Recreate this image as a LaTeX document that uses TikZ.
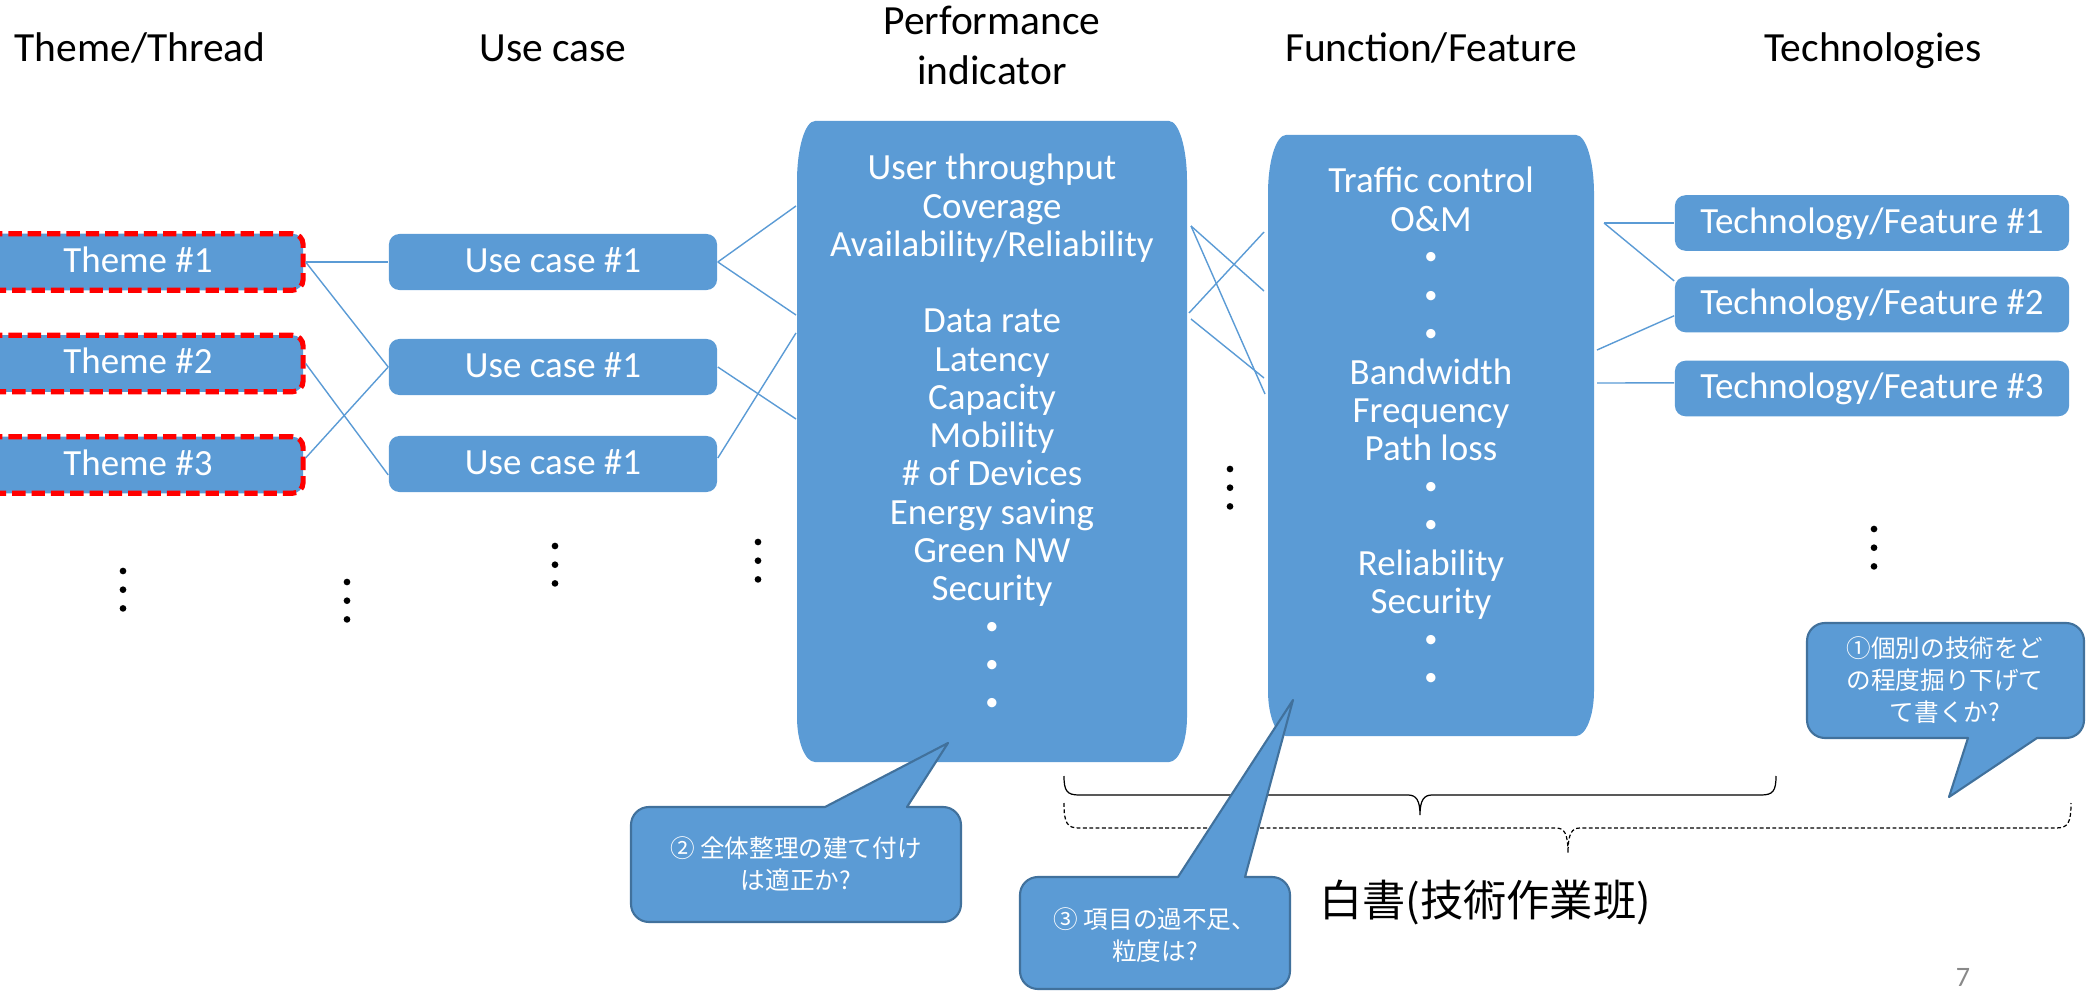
\documentclass[tikz,border=0pt]{standalone}
\usepackage{fontspec}
\setmainfont{Carlito}
\newfontfamily\jpfont{Noto Sans CJK JP}
\usetikzlibrary{calc}
\definecolor{boxblue}{HTML}{5B9BD5}
\definecolor{calloutedge}{HTML}{41719C}
\definecolor{pagegray}{HTML}{898989}

% blue panel with elliptical corners: x1 y1 x2 y2 rx ry-top ry-bottom
\newcommand\softpanel[7]{%
  \fill[boxblue] (#1,#2+#6) .. controls (#1,#2+0.45*#6) and (#1+0.45*#5,#2) .. (#1+#5,#2)
   -- (#3-#5,#2) .. controls (#3-0.45*#5,#2) and (#3,#2+0.45*#6) .. (#3,#2+#6)
   -- (#3,#4-#7) .. controls (#3,#4-0.45*#7) and (#3-0.45*#5,#4) .. (#3-#5,#4)
   -- (#1+#5,#4) .. controls (#1+0.45*#5,#4) and (#1,#4-0.45*#7) .. (#1,#4-#7) -- cycle;}
% list placeholder dot
\newcommand\ldot{\raisebox{1.3pt}{\fontsize{7.5}{7.5}\selectfont •}}

\begin{document}
\begin{tikzpicture}[x=0.01cm, y=-0.01cm,
  link/.style={draw=boxblue, line width=0.4pt},
  hdr/.style={font=\fontsize{11.8}{14.2}\selectfont, anchor=base, inner sep=0pt},
  itembox/.style={fill=boxblue, text=white, font=\fontsize{10.5}{12}\selectfont,
    inner sep=0pt, text height=7.6pt, text depth=1.9pt, rounded corners=3pt},
  themebox/.style={itembox, draw=red, line width=1.45pt, dash pattern=on 3.8pt off 1.7pt,
    minimum width=3.30cm, minimum height=0.565cm},
  ucbox/.style={itembox, minimum width=3.28cm, minimum height=0.56cm},
  techbox/.style={itembox, minimum width=3.94cm, minimum height=0.555cm},
  listtext/.style={text=white, font=\fontsize{10.5}{10.87}\selectfont, anchor=base, inner sep=0pt},
  note/.style={text=white, font=\jpfont\fontsize{7}{9}\selectfont, align=center, inner sep=0pt},
  callout/.style={fill=boxblue, draw=calloutedge, line width=0.6pt, line join=round},
  brace/.style={draw=black, line width=0.35pt}
]
\useasboundingbox (0,0) rectangle (2093,991);

% column headings
\node[hdr] (h-th) at (140,62) {Theme/Thread};
\node[hdr] (h-uc) at (553,62) {Use case};
\node[hdr] (h-pi) at (992,35) {\begin{tabular}[t]{@{}c@{}}Performance\\indicator\end{tabular}};
\node[hdr] (h-ff) at (1431,62) {Function/Feature};
\node[hdr] (h-tt) at (1873,62) {Technologies};

% large panels
\softpanel{797}{121}{1187}{762}{18}{60}{45}
\softpanel{1268}{135}{1594}{736}{18}{58}{45}

\node[listtext] (pi) at (992,180) {\begin{tabular}[t]{@{}c@{}}
User throughput\\Coverage\\Availability/Reliability\\ \\Data rate\\Latency\\Capacity\\Mobility\\
\# of Devices\\Energy saving\\Green NW\\Security\\\ldot\\\ldot\\\ldot\end{tabular}};
\node[listtext] (ff) at (1431,193) {\begin{tabular}[t]{@{}c@{}}
Traffic control\\O\&M\\\ldot\\\ldot\\\ldot\\Bandwidth\\Frequency\\Path loss\\\ldot\\\ldot\\Reliability\\Security\\\ldot\\\ldot\end{tabular}};

% themes, use cases, technologies
\node[themebox] (th1) at (138,262) {Theme \#1};
\node[themebox] (th2) at (138,363.5) {Theme \#2};
\node[themebox] (th3) at (138,465) {Theme \#3};

\node[ucbox] (uc1) at (553,262) {Use case \#1};
\node[ucbox] (uc2) at (553,367) {Use case \#1};
\node[ucbox] (uc3) at (553,464) {Use case \#1};

\node[techbox] (tt1) at (1872,223) {Technology/Feature \#1};
\node[techbox] (tt2) at (1872,304.5) {Technology/Feature \#2};
\node[techbox] (tt3) at (1872,388.5) {Technology/Feature \#3};

% attachment points on the panels
\coordinate (pi-w1) at (796,206);
\coordinate (pi-w2) at (796,315);
\coordinate (pi-w3) at (796,333);
\coordinate (pi-w4) at (796,419);
\coordinate (pi-e1) at (1191,226);
\coordinate (pi-e2) at (1189,313);
\coordinate (pi-e3) at (1191,319);
\coordinate (ff-w1) at (1264,232);
\coordinate (ff-w2) at (1264,291);
\coordinate (ff-w3) at (1264,378);
\coordinate (ff-w4) at (1265,394);
\coordinate (ff-e1) at (1604,223);
\coordinate (ff-e2) at (1597,350);
\coordinate (ff-e3) at (1597,383);

% links
\draw[link] (th1.east) -- (uc1.west);
\draw[link] (th1.east) -- (uc2.west);
\draw[link] (th2.east) -- ([yshift=-3.1pt]uc3.west);
\draw[link] ([yshift=2pt]th3.east) -- (uc2.west);

\draw[link] (uc1.east) -- (pi-w1);
\draw[link] (uc1.east) -- (pi-w2);
\draw[link] (uc2.east) -- (pi-w4);
\draw[link] ([yshift=1.7pt]uc3.east) -- (pi-w3);

\draw[link] (pi-e1) -- (ff-w2);
\draw[link] (pi-e1) -- (ff-w4);
\draw[link] (pi-e2) -- (ff-w1);
\draw[link] (pi-e3) -- (ff-w3);

\draw[link] (ff-e1) -- (tt1.west);
\draw[link] (ff-e1) -- ([yshift=-1.4pt]tt2.north west);
\draw[link] (ff-e2) -- ([yshift=-3.2pt]tt2.west);
\draw[link] (ff-e3) -- ([yshift=1.6pt]tt3.west);

% vertical ellipses
\foreach \x/\y in {123/571, 347/582, 555/546, 758/542, 1230/469, 1874/529}
  \foreach \k in {0,1,2}
    \fill (\x,\y+18.7*\k) circle[radius=0.95pt];

% braces
\draw[brace] (1064,776) .. controls (1064,791) and (1067,795) .. (1079,795) -- (1408,795)
  .. controls (1416,795) and (1420,800) .. (1420,815)
  .. controls (1420,800) and (1424,795) .. (1432,795) -- (1761,795)
  .. controls (1773,795) and (1776,791) .. (1776,776);
\draw[brace, dash pattern=on 1.1pt off 0.7pt] (1064,803) .. controls (1064,823) and (1067,828) .. (1079,828) -- (1556,828)
  .. controls (1564,828) and (1568,833) .. (1568,853)
  .. controls (1568,833) and (1572,828) .. (1580,828) -- (2056,828)
  .. controls (2068,828) and (2071,823) .. (2071,803);

% callouts
\draw[callout] (1825,623) -- (2066,623) .. controls (2076,623) and (2084,631) .. (2084,641)
  -- (2084,720) .. controls (2084,730) and (2076,738) .. (2066,738)
  -- (2037,738) -- (1949,797) -- (1968,738)
  -- (1825,738) .. controls (1815,738) and (1807,730) .. (1807,720)
  -- (1807,641) .. controls (1807,631) and (1815,623) .. (1825,623) -- cycle;
\node[note] (n1) at (1945,680) {①個別の技術をど\\の程度掘り下げて\\て書くか?};

\draw[callout] (825,807) -- (948,743) -- (907,807)
  -- (943,807) .. controls (953,807) and (961,815) .. (961,825)
  -- (961,904) .. controls (961,914) and (953,922) .. (943,922)
  -- (649,922) .. controls (639,922) and (631,914) .. (631,904)
  -- (631,825) .. controls (631,815) and (639,807) .. (649,807) -- cycle;
\node[note] (n2) at (796,864) {② 全体整理の建て付け\\は適正か?};

\draw[callout] (1178,877) -- (1293,700) -- (1245,877)
  -- (1272,877) .. controls (1282,877) and (1290,885) .. (1290,895)
  -- (1290,971) .. controls (1290,981) and (1282,989) .. (1272,989)
  -- (1038,989) .. controls (1028,989) and (1020,981) .. (1020,971)
  -- (1020,895) .. controls (1020,885) and (1028,877) .. (1038,877) -- cycle;
\node[note] (n3) at (1155,935) {③ 項目の過不足、\\粒度は?};

% group label and page number
\node[font=\jpfont\fontsize{12.3}{14}\selectfont, inner sep=0pt] (wp) at (1485,902) {白書(技術作業班)};
\node[text=pagegray, font=\fontsize{8}{9}\selectfont, anchor=base, inner sep=0pt] (pg) at (1963,986) {7};
\end{tikzpicture}
\end{document}
